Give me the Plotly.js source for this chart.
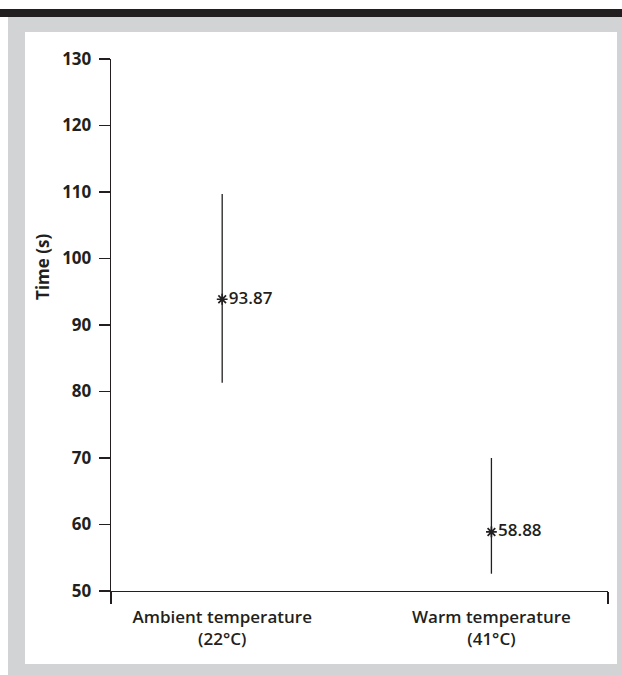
<!DOCTYPE html>
<html>
<head>
<meta charset="utf-8">
<script src="https://cdn.plot.ly/plotly-3.0.1.min.js"></script>
<style>
  html, body { margin: 0; padding: 0; background: #ffffff; }
  #frame { position: absolute; left: 0; top: 0; width: 622px; height: 675px; background: #ffffff; }
  #bar { position: absolute; left: 0; top: 9px; width: 622px; height: 8px; background: #231f20; }
  #gray { position: absolute; left: 8px; top: 17px; width: 614px; height: 658px; background: #d1d3d4; }
  #panel { position: absolute; left: 25px; top: 32px; width: 592px; height: 632px; background: #ffffff; }
  #chart { position: absolute; left: 0; top: 0; width: 622px; height: 675px; }
</style>
</head>
<body>
<div id="frame"><div id="bar"></div><div id="gray"></div><div id="panel"></div></div>
<div id="chart"></div>
<script>
const categories = ['Ambient temperature<br>(22°C)', 'Warm temperature<br>(41°C)'];
const means = [93.87, 58.88];
const upperBounds = [109.7, 70.0];
const lowerBounds = [81.3, 52.6];
const yTicks = [50, 60, 70, 80, 90, 100, 110, 120, 130];

const ink = '#231f20';
const fontFamily = '"Open Sans", "Noto Sans", sans-serif';

const trace = {
  type: 'scatter',
  mode: 'markers+text',
  x: categories,
  y: means,
  text: means.map(v => v.toFixed(2)),
  textposition: 'middle right',
  textfont: { family: fontFamily, size: 17, color: ink, weight: 600 },
  marker: { symbol: 'asterisk-open', size: 9, color: ink, line: { color: ink, width: 1.7 } },
  error_y: {
    type: 'data',
    symmetric: false,
    array: upperBounds.map((u, i) => u - means[i]),
    arrayminus: lowerBounds.map((l, i) => means[i] - l),
    width: 0,
    thickness: 1.3,
    color: ink
  },
  cliponaxis: false,
  hoverinfo: 'skip',
  showlegend: false
};

const edgeTrace = {
  type: 'scatter', mode: 'markers', x: [0], y: [50], xaxis: 'x2',
  marker: { opacity: 0 }, showlegend: false, hoverinfo: 'skip'
};

const xr = [-0.413, 1.433];

const layout = {
  width: 622,
  height: 675,
  paper_bgcolor: 'rgba(0,0,0,0)',
  plot_bgcolor: 'rgba(0,0,0,0)',
  margin: { l: 111, r: 14, t: 59, b: 84 },
  font: { family: fontFamily, size: 16, color: ink },
  xaxis: {
    type: 'category',
    range: xr,
    showline: true, linecolor: ink, linewidth: 1.3,
    ticks: '', showgrid: false, zeroline: false,
    ticklabelstandoff: 10,
    tickfont: { family: fontFamily, size: 17, color: ink, weight: 600 },
    fixedrange: true
  },
  xaxis2: {
    overlaying: 'x', range: xr, side: 'bottom',
    tickvals: xr, showticklabels: false,
    ticks: 'outside', ticklen: 12, tickwidth: 1.3, tickcolor: ink,
    showline: false, showgrid: false, zeroline: false, fixedrange: true
  },
  yaxis: {
    range: [50, 130],
    tickvals: yTicks,
    showline: true, linecolor: ink, linewidth: 1.3,
    ticks: 'outside', ticklen: 11, tickwidth: 1.3, tickcolor: ink,
    ticklabelstandoff: 4,
    showgrid: false, zeroline: false,
    tickfont: { family: fontFamily, size: 17, color: ink, weight: 700 },
    fixedrange: true
  },
  annotations: [{
    text: 'Time (s)', textangle: -90,
    xref: 'paper', yref: 'paper',
    x: (43 - 111) / 497, y: (590.7 - 267) / 531.4,
    xanchor: 'center', yanchor: 'middle', showarrow: false,
    font: { family: fontFamily, size: 17, color: ink, weight: 700 }
  }]
};

Plotly.newPlot('chart', [trace, edgeTrace], layout, { displayModeBar: false, staticPlot: true });
</script>
</body>
</html>
